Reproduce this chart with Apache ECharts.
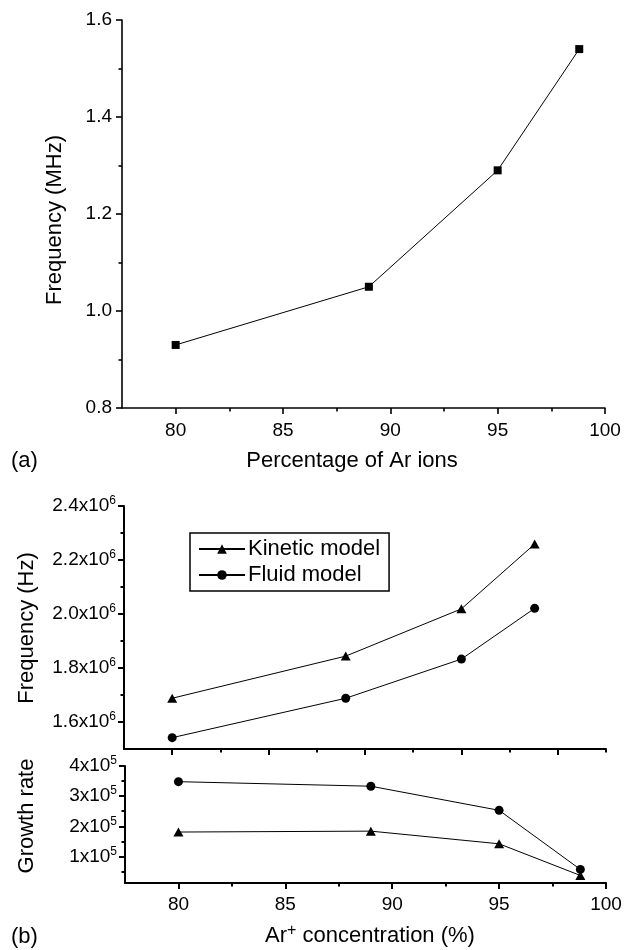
<!DOCTYPE html>
<html>
<head>
<meta charset="utf-8">
<script src="https://cdn.jsdelivr.net/npm/echarts@6/dist/echarts.min.js"></script>
<style>
  html, body { margin: 0; padding: 0; background: #fff; }
  #chart { width: 632px; height: 950px; }
</style>
</head>
<body>
<div id="chart"></div>
<script>
// Panel (a): oscillation frequency against the Ar ion fraction
const arPercent = [80, 89, 95, 98.8];
const freqMHz = [0.93, 1.05, 1.29, 1.54];

// Panel (b): kinetic and fluid model results against Ar+ concentration
const arConcentration = [80, 89, 95, 98.8];
const kineticFreqHz = [1.688e6, 1.844e6, 2.019e6, 2.259e6];
const fluidFreqHz = [1.542e6, 1.688e6, 1.833e6, 2.021e6];
const kineticGrowth = [1.81e5, 1.84e5, 1.42e5, 0.37e5];
const fluidGrowth = [3.48e5, 3.33e5, 2.53e5, 0.57e5];

// Tick positions and their labels
const xMajorTicks = [80, 85, 90, 95, 100];
const xTickLabels = ['80', '85', '90', '95', '100'];
const xMinorTicks = [82.5, 87.5, 92.5, 97.5];
const xMinorTicksWide = [82.5, 87.5, 92.5, 97.5, 102.5];

const mhzTicks = [0.8, 1.0, 1.2, 1.4, 1.6];
const mhzTickLabels = ['0.8', '1.0', '1.2', '1.4', '1.6'];
const mhzMinorTicks = [0.9, 1.1, 1.3, 1.5];

const hzTicks = [1.6e6, 1.8e6, 2.0e6, 2.2e6, 2.4e6];
const hzTickLabels = ['1.6x10', '1.8x10', '2.0x10', '2.2x10', '2.4x10'];
const hzExponent = '6';
const hzMinorTicks = [1.7e6, 1.9e6, 2.1e6, 2.3e6];

const growthTicks = [1e5, 2e5, 3e5, 4e5];
const growthTickLabels = ['1x10', '2x10', '3x10', '4x10'];
const growthExponent = '5';
const growthMinorTicks = [0.5e5, 1.5e5, 2.5e5, 3.5e5];

const FONT = "'Liberation Sans', Arial, Helvetica, sans-serif";

function labelFor(ticks, labels, exponent) {
  return function (v) {
    const i = ticks.findIndex(t => Math.abs(t - v) <= 1e-6 * Math.max(1, Math.abs(t)));
    if (i < 0) return '';
    return exponent ? '{m|' + labels[i] + '}{e|' + exponent + '}' : labels[i];
  };
}

const labelRich = {
  m: { fontSize: 19, fontFamily: FONT, color: '#000', lineHeight: 22 },
  e: { fontSize: 12, fontFamily: FONT, color: '#000', verticalAlign: 'top', lineHeight: 12 }
};

// One axis carrying the line, long ticks and labels
function majorAxis(dim, grid, min, max, ticks, labels, exponent, showLabels, lineWidth, labelMargin) {
  return {
    type: 'value', gridIndex: grid, min: min, max: max,
    position: dim === 'x' ? 'bottom' : 'left',
    splitLine: { show: false },
    axisLine: { show: true, onZero: false, lineStyle: { color: '#000', width: lineWidth } },
    axisTick: { show: true, inside: false, length: 6, customValues: ticks,
                lineStyle: { color: '#000', width: lineWidth } },
    axisLabel: { show: showLabels, customValues: ticks, margin: labelMargin,
                 color: '#000', fontSize: 19, fontFamily: FONT,
                 formatter: labelFor(ticks, labels, exponent), rich: labelRich }
  };
}

// A companion axis that only draws the short ticks
function minorAxis(dim, grid, min, max, ticks, lineWidth) {
  return {
    type: 'value', gridIndex: grid, min: min, max: max,
    position: dim === 'x' ? 'bottom' : 'left', offset: 0,
    splitLine: { show: false },
    axisLine: { show: false, onZero: false },
    axisTick: { show: true, inside: false, length: 3.5, customValues: ticks,
                lineStyle: { color: '#000', width: lineWidth } },
    axisLabel: { show: false }
  };
}

function pairs(xs, ys) { return xs.map((x, i) => [x, ys[i]]); }

const lineStyle = { color: '#000', width: 1 };
const NAME_FONT = '22px ' + FONT;

const option = {
  animation: false,
  backgroundColor: '#fff',
  textStyle: { fontFamily: FONT, color: '#000' },
  grid: [
    { left: 122, top: 20, width: 483, height: 388, outerBoundsMode: 'none', containLabel: false },
    { left: 124, top: 506, width: 482, height: 243, outerBoundsMode: 'none', containLabel: false },
    { left: 125, top: 766, width: 481, height: 117, outerBoundsMode: 'none', containLabel: false }
  ],
  xAxis: [
    majorAxis('x', 0, 77.5, 100, xMajorTicks, xTickLabels, null, true, 1.6, 13),
    minorAxis('x', 0, 77.5, 100, xMinorTicks, 1.6),
    majorAxis('x', 1, 77.5, 102.5, xMajorTicks, xTickLabels, null, false, 2, 13),
    minorAxis('x', 1, 77.5, 102.5, xMinorTicksWide, 2),
    majorAxis('x', 2, 77.5, 100, xMajorTicks, xTickLabels, null, true, 2, 12),
    minorAxis('x', 2, 77.5, 100, xMinorTicks, 2)
  ],
  yAxis: [
    majorAxis('y', 0, 0.8, 1.6, mhzTicks, mhzTickLabels, null, true, 1.6, 10),
    minorAxis('y', 0, 0.8, 1.6, mhzMinorTicks, 1.6),
    majorAxis('y', 1, 1.5e6, 2.4e6, hzTicks, hzTickLabels, hzExponent, true, 2, 8),
    minorAxis('y', 1, 1.5e6, 2.4e6, hzMinorTicks, 2),
    majorAxis('y', 2, 12000, 400000, growthTicks, growthTickLabels, growthExponent, true, 2, 8),
    minorAxis('y', 2, 12000, 400000, growthMinorTicks, 2)
  ],
  legend: {
    data: ['Kinetic model', 'Fluid model'],
    orient: 'vertical',
    left: 190, top: 533,
    padding: [5, 9, 5, 8],
    itemGap: 4,
    itemWidth: 46, itemHeight: 12,
    borderColor: '#000', borderWidth: 1.5, borderRadius: 0,
    backgroundColor: '#fff',
    textStyle: { fontSize: 22, fontFamily: FONT, color: '#000', padding: [0, 0, 0, -2] }
  },
  series: [
    { name: 'Frequency', type: 'line', xAxisIndex: 0, yAxisIndex: 0,
      data: pairs(arPercent, freqMHz), symbol: 'rect', symbolSize: 8,
      itemStyle: { color: '#000' }, lineStyle: lineStyle },
    { name: 'Kinetic model', type: 'line', xAxisIndex: 2, yAxisIndex: 2,
      data: pairs(arConcentration, kineticFreqHz), symbol: 'triangle', symbolSize: [10, 9],
      itemStyle: { color: '#000' }, lineStyle: lineStyle },
    { name: 'Fluid model', type: 'line', xAxisIndex: 2, yAxisIndex: 2,
      data: pairs(arConcentration, fluidFreqHz), symbol: 'circle', symbolSize: 9,
      itemStyle: { color: '#000' }, lineStyle: lineStyle },
    { name: 'Kinetic model', type: 'line', xAxisIndex: 4, yAxisIndex: 4,
      data: pairs(arConcentration, kineticGrowth), symbol: 'triangle', symbolSize: [10, 9],
      itemStyle: { color: '#000' }, lineStyle: lineStyle },
    { name: 'Fluid model', type: 'line', xAxisIndex: 4, yAxisIndex: 4,
      data: pairs(arConcentration, fluidGrowth), symbol: 'circle', symbolSize: 9,
      itemStyle: { color: '#000' }, lineStyle: lineStyle }
  ],
  graphic: [
    { type: 'text', x: 55, y: 220, rotation: Math.PI / 2,
      style: { text: 'Frequency (MHz)', font: NAME_FONT, fill: '#000', align: 'center', verticalAlign: 'middle' } },
    { type: 'text', x: 352, y: 461,
      style: { text: 'Percentage of Ar ions', font: NAME_FONT, fill: '#000', align: 'center', verticalAlign: 'middle' } },
    { type: 'text', x: 11, y: 461,
      style: { text: '(a)', font: NAME_FONT, fill: '#000', align: 'left', verticalAlign: 'middle' } },
    { type: 'text', x: 27, y: 628, rotation: Math.PI / 2,
      style: { text: 'Frequency (Hz)', font: NAME_FONT, fill: '#000', align: 'center', verticalAlign: 'middle' } },
    { type: 'text', x: 27, y: 816, rotation: Math.PI / 2,
      style: { text: 'Growth rate', font: NAME_FONT, fill: '#000', align: 'center', verticalAlign: 'middle' } },
    { type: 'text', x: 370, y: 936,
      style: { text: '{n|Ar}{s|+}{n| concentration (%)}', align: 'center', verticalAlign: 'middle',
               rich: {
                 n: { fontSize: 22, fontFamily: FONT, fill: '#000', lineHeight: 26 },
                 s: { fontSize: 16, fontFamily: FONT, fill: '#000', verticalAlign: 'top', lineHeight: 15 }
               } } },
    { type: 'text', x: 11, y: 937,
      style: { text: '(b)', font: NAME_FONT, fill: '#000', align: 'left', verticalAlign: 'middle' } }
  ]
};

const chart = echarts.init(document.getElementById('chart'), null, { renderer: 'canvas' });
chart.setOption(option);
</script>
</body>
</html>
